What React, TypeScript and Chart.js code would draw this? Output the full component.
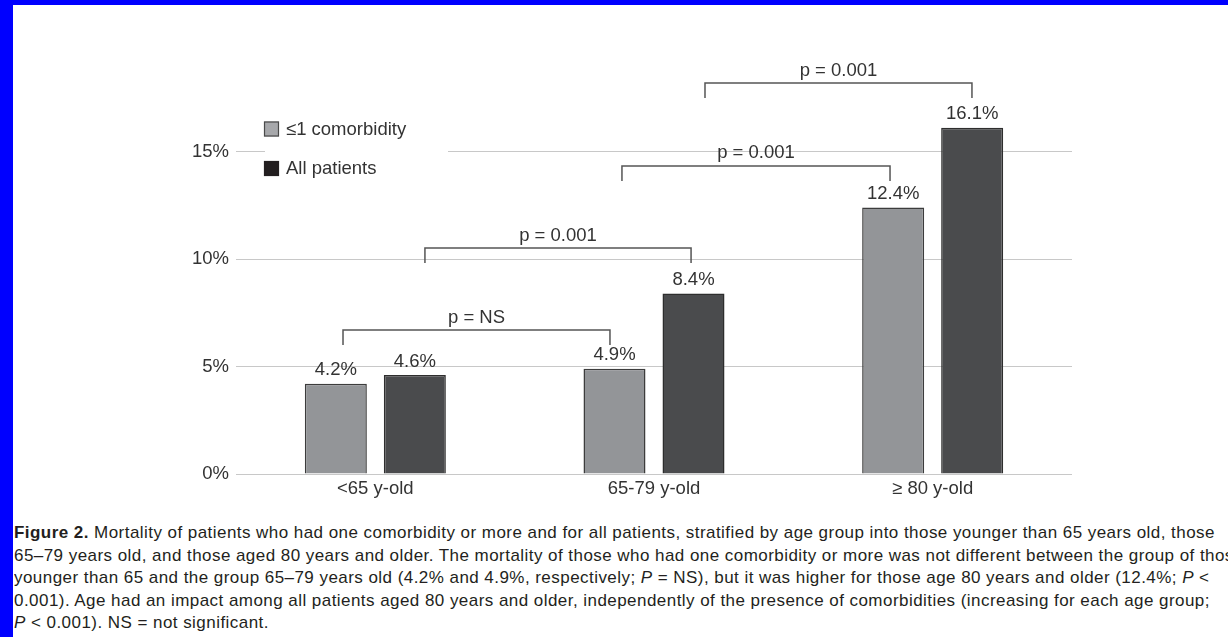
import React, { useEffect, useRef } from "react";
import { Chart, registerables } from "chart.js";

Chart.register(...registerables);

const categories = ["<65 y-old", "65-79 y-old", "\u2265 80 y-old"];
const comorbidity = [4.2, 4.9, 12.4];
const allPatients = [4.6, 8.4, 16.1];
const seriesNames = ["\u22641 comorbidity", "All patients"];
const yTicks = [0, 5, 10, 15];

// significance brackets (x in category units, level in %)
const bracketStart = [-0.116, 0.178, 0.885, 1.183];
const bracketEnd = [0.842, 1.133, 1.847, 2.141];
const bracketLevel = [6.7, 10.51, 14.33, 18.19];
const bracketLabels = ["p = NS", "p = 0.001", "p = 0.001", "p = 0.001"];

const FONT = "'Liberation Sans', Arial, Helvetica, sans-serif";
const TEXT = "#333333";
const FS = 18.5;

const overlayPlugin = {
  id: "overlay",
  afterDatasetsDraw(chart: any) {
    const ctx = chart.ctx;
    const x = chart.scales.x;
    const y = chart.scales.y;
    ctx.save();
    // value labels
    ctx.font = `${FS}px ${FONT}`;
    ctx.fillStyle = TEXT;
    ctx.textAlign = "center";
    ctx.textBaseline = "middle";
    chart.data.datasets.forEach((ds: any, di: number) => {
      const meta = chart.getDatasetMeta(di);
      meta.data.forEach((bar: any, i: number) => {
        ctx.fillText(ds.data[i].toFixed(1) + "%", bar.x, bar.y - 13.5);
      });
    });
    // brackets
    ctx.strokeStyle = "#555555";
    ctx.lineWidth = 1.5;
    const drop = 0.7;
    bracketStart.forEach((s, i) => {
      const x1 = x.getPixelForValue(s);
      const x2 = x.getPixelForValue(bracketEnd[i]);
      const yt = y.getPixelForValue(bracketLevel[i]);
      const yb = y.getPixelForValue(bracketLevel[i] - drop);
      ctx.beginPath();
      ctx.moveTo(x1, yb);
      ctx.lineTo(x1, yt);
      ctx.lineTo(x2, yt);
      ctx.lineTo(x2, yb);
      ctx.stroke();
      ctx.fillStyle = TEXT;
      ctx.fillText(bracketLabels[i], (x1 + x2) / 2, yt - 12.5);
    });
    ctx.restore();
  },
  afterDraw(chart: any) {
    const ctx = chart.ctx;
    const area = chart.chartArea;
    ctx.save();
    // legend with white background over gridline
    const lx = area.left + 28;
    ctx.fillStyle = "#ffffff";
    ctx.fillRect(lx + 1, area.top + 70, 183, 120);
    const boxY = [area.top + 77.5, area.top + 117];
    const fills = ["#a7a8ab", "#231f20"];
    const borders = ["#4a4a4a", "#231f20"];
    ctx.font = `${FS}px ${FONT}`;
    ctx.textAlign = "left";
    ctx.textBaseline = "middle";
    seriesNames.forEach((name, i) => {
      ctx.fillStyle = fills[i];
      ctx.fillRect(lx, boxY[i], 15, 15);
      ctx.strokeStyle = borders[i];
      ctx.lineWidth = 1.2;
      ctx.strokeRect(lx + 0.5, boxY[i] + 0.5, 14, 14);
      ctx.fillStyle = TEXT;
      ctx.fillText(name, lx + 22, boxY[i] + 8);
    });
    ctx.restore();
  },
};

export default function App() {
  const ref = useRef<HTMLCanvasElement | null>(null);

  useEffect(() => {
    document.body.style.margin = "0";
    if (!ref.current) return;
    const chart = new Chart(ref.current, {
      type: "bar",
      data: {
        labels: categories,
        datasets: [
          {
            label: seriesNames[0],
            data: comorbidity,
            backgroundColor: "#939598",
            borderColor: "#3c3c3c",
            borderWidth: 1.5,
            categoryPercentage: 0.567,
            barPercentage: 0.785,
          },
          {
            label: seriesNames[1],
            data: allPatients,
            backgroundColor: "#4a4b4d",
            borderColor: "#2e2e2e",
            borderWidth: 1.5,
            categoryPercentage: 0.567,
            barPercentage: 0.785,
          },
        ],
      },
      options: {
        animation: false,
        responsive: false,
        devicePixelRatio: 1,
        layout: { padding: { top: 44, right: 156, left: 0, bottom: 0 } },
        plugins: {
          legend: { display: false },
          tooltip: { enabled: false },
          title: { display: false },
        },
        scales: {
          x: {
            grid: { display: false, drawTicks: false },
            border: { display: false },
            ticks: {
              font: { family: FONT, size: FS },
              color: TEXT,
              padding: 4,
            },
            afterFit(scale: any) {
              scale.height = 36;
            },
          },
          y: {
            min: 0,
            max: 20,
            grid: { color: "#c8c8c8", lineWidth: 1, drawTicks: false },
            border: { display: false },
            ticks: {
              font: { family: FONT, size: FS },
              color: TEXT,
              padding: 7,
              callback: (v: any) => v + "%",
            },
            afterBuildTicks(scale: any) {
              scale.ticks = yTicks.map((v) => ({ value: v }));
            },
            afterFit(scale: any) {
              scale.width = 236;
            },
          },
        },
      },
      plugins: [overlayPlugin],
    });
    return () => chart.destroy();
  }, []);

  const lineStyle: React.CSSProperties = {
    whiteSpace: "nowrap",
    height: 22.5,
    lineHeight: "22.5px",
  };
  const it: React.CSSProperties = { fontStyle: "italic" };

  return (
    <div
      style={{
        position: "fixed",
        left: 0,
        top: 0,
        width: 1228,
        height: 637,
        background: "#0000ff",
        overflow: "hidden",
      }}
    >
      <div
        style={{
          position: "absolute",
          left: 13,
          top: 5,
          right: 0,
          bottom: 0,
          background: "#ffffff",
        }}
      />
      <canvas
        ref={ref}
        width={1228}
        height={510}
        style={{ position: "absolute", left: 0, top: 0, width: 1228, height: 510 }}
      />
      <div
        style={{
          position: "absolute",
          left: 14,
          top: 522,
          right: 0,
          overflow: "hidden",
          fontFamily: FONT,
          fontSize: 17,
          letterSpacing: "0.45px",
          color: "#231f20",
        }}
      >
        <div style={lineStyle}>
          <b>Figure 2.</b> Mortality of patients who had one comorbidity or more and for all patients, stratified by age group into those younger than 65 years old, those
        </div>
        <div style={lineStyle}>
          65–79 years old, and those aged 80 years and older. The mortality of those who had one comorbidity or more was not different between the group of those
        </div>
        <div style={lineStyle}>
          younger than 65 and the group 65–79 years old (4.2% and 4.9%, respectively; <span style={it}>P</span> = NS), but it was higher for those age 80 years and older (12.4%; <span style={it}>P</span> &lt;
        </div>
        <div style={lineStyle}>
          0.001). Age had an impact among all patients aged 80 years and older, independently of the presence of comorbidities (increasing for each age group;
        </div>
        <div style={lineStyle}>
          <span style={it}>P</span> &lt; 0.001). NS = not significant.
        </div>
      </div>
    </div>
  );
}
